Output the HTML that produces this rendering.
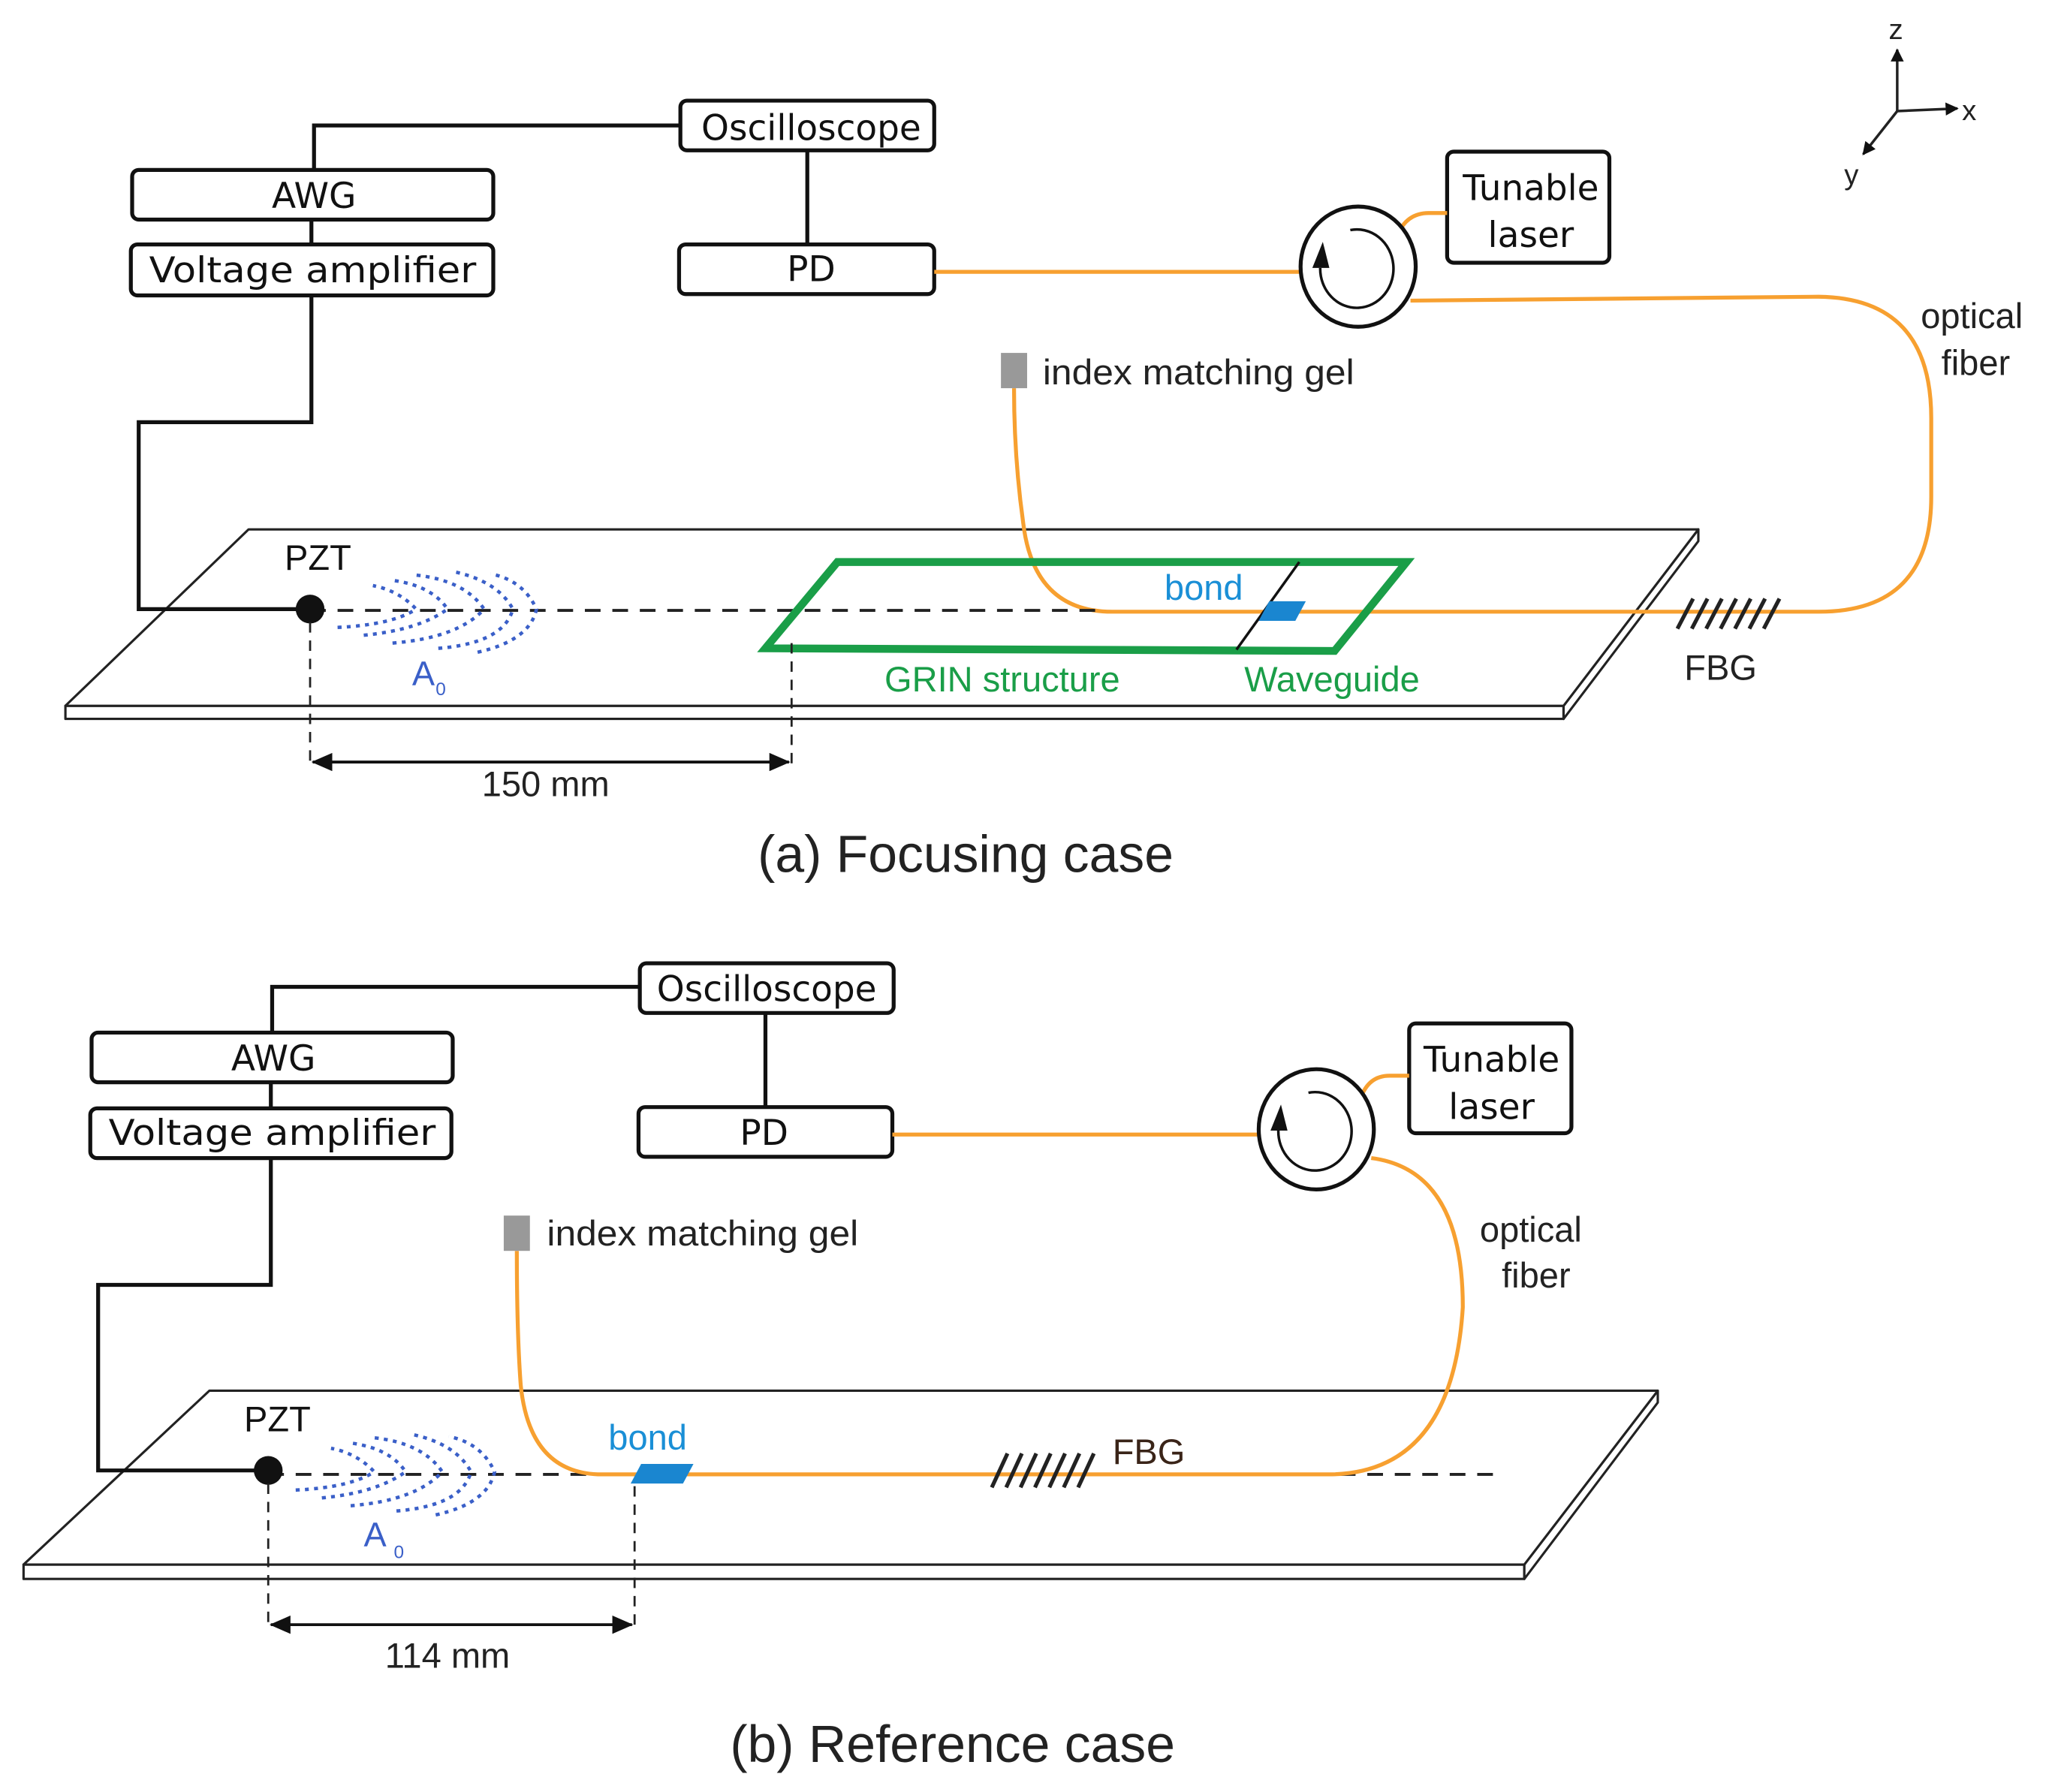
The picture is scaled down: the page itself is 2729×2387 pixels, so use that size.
<!DOCTYPE html>
<html><head><meta charset="utf-8"><style>
html,body{margin:0;padding:0;background:#fff;}
svg{display:block;}
text{font-family:"Liberation Sans",Arial,sans-serif;}
.bx{font-family:"DejaVu Sans","Liberation Sans",sans-serif;font-size:27px;fill:#111;}
</style></head><body>
<svg width="2729" height="2387" viewBox="0 0 1566 1371" preserveAspectRatio="none" xmlns="http://www.w3.org/2000/svg">
<defs>
<marker id="ah" markerWidth="10" markerHeight="10" refX="9" refY="5" orient="auto" markerUnits="userSpaceOnUse"><path d="M0,0 L10,5 L0,10 z" fill="#111"/></marker>
<marker id="ahs" markerWidth="16" markerHeight="14" refX="15" refY="7" orient="auto-start-reverse" markerUnits="userSpaceOnUse"><path d="M0,0 L16,7 L0,14 z" fill="#111"/></marker>
<g id="waves" fill="none" stroke="#3a5fc8" stroke-width="2.6" stroke-dasharray="3,4">
 <path d="M258,480 Q300,478 318,466 Q305,452 285,448"/>
 <path d="M278,486 Q320,482 342,466 Q330,448 300,444"/>
 <path d="M300,492 Q350,488 370,466 Q355,444 318,440"/>
 <path d="M335,496 Q385,492 392,466 Q380,444 345,437"/>
 <path d="M365,499 Q405,490 410,466 Q400,444 375,439"/>
</g>
</defs>
<rect width="1566" height="1371" fill="#fff"/>

<g stroke="#222" stroke-width="2" fill="none">
 <line x1="1450" y1="85" x2="1450" y2="38" marker-end="url(#ah)"/>
 <line x1="1450" y1="85" x2="1496" y2="83" marker-end="url(#ah)"/>
 <line x1="1450" y1="85" x2="1424" y2="118" marker-end="url(#ah)"/>
</g>
<text x="1449" y="30" font-size="22" text-anchor="middle" fill="#222">z</text>
<text x="1505" y="92" font-size="22" text-anchor="middle" fill="#222">x</text>
<text x="1415" y="141" font-size="22" text-anchor="middle" fill="#222">y</text>

<g stroke="#222" stroke-width="1.8" fill="#fff" stroke-linejoin="round">
 <path d="M50,540 L1195,540 L1195,550 L50,550 Z"/>
 <path d="M1195,540 L1298,405 L1298,414 L1195,550 Z"/>
 <path d="M190,405 L1298,405 L1195,540 L50,540 Z"/>
</g>

<g stroke="#111" stroke-width="3" fill="none">
 <polyline points="240,130 240,96 520,96"/>
 <line x1="617" y1="115" x2="617" y2="187"/>
 <line x1="238" y1="168" x2="238" y2="187"/>
 <polyline points="238,226 238,323 106,323 106,466 237,466"/>
</g>
<g stroke="#111" stroke-width="3" fill="#fff">
 <rect x="520" y="77" width="194" height="38" rx="5"/>
 <rect x="101" y="130" width="276" height="38" rx="5"/>
 <rect x="100" y="187" width="277" height="39" rx="5"/>
 <rect x="519" y="187" width="195" height="38" rx="5"/>
 <rect x="1106" y="116" width="124" height="85" rx="5"/>
</g>
<text class="bx" x="620" y="107" text-anchor="middle" textLength="168" lengthAdjust="spacingAndGlyphs">Oscilloscope</text>
<text class="bx" x="240" y="159" text-anchor="middle">AWG</text>
<text class="bx" x="239" y="216" text-anchor="middle" textLength="250" lengthAdjust="spacingAndGlyphs">Voltage amplifier</text>
<text class="bx" x="620" y="215" text-anchor="middle">PD</text>
<text class="bx" x="1170" y="153" text-anchor="middle" textLength="104" lengthAdjust="spacingAndGlyphs">Tunable</text>
<text class="bx" x="1170" y="189" text-anchor="middle">laser</text>

<g stroke="#f7a030" stroke-width="3" fill="none">
 <line x1="714" y1="208" x2="994" y2="208"/>
 <path d="M1068,180 Q1075,163 1092,163 L1106,163"/>
 <path d="M1078,230 L1390,227 Q1476,228 1476,320 L1476,380 Q1476,468 1390,468 L850,468 Q790,468 782,400 Q775,350 775,297"/>
</g>
<rect x="765" y="270" width="20" height="27" fill="#999"/>
<text x="797" y="294" font-size="27" fill="#222" textLength="238" lengthAdjust="spacingAndGlyphs">index matching gel</text>
<text x="1507" y="251" font-size="27" fill="#222" text-anchor="middle">optical</text>
<text x="1510" y="287" font-size="27" fill="#222" text-anchor="middle">fiber</text>

<ellipse cx="1038" cy="204" rx="44" ry="46" fill="#fff" stroke="#111" stroke-width="3"/>
<path d="M1032,176 A28,30 0 1 1 1009,205" fill="none" stroke="#111" stroke-width="2"/>
<path d="M1003,205 L1011,185 L1016,205 Z" fill="#111"/>

<line x1="237" y1="467" x2="845" y2="467" stroke="#222" stroke-width="2.2" stroke-dasharray="12,9"/>

<path d="M640,430 L1075,430 L1020,498 L585,496 Z" fill="none" stroke="#1a9e48" stroke-width="6"/>
<line x1="993" y1="430" x2="945" y2="497" stroke="#111" stroke-width="2"/>
<path d="M970,460 L998,460 L990,475 L962,475 Z" fill="#1a86d0"/>
<text x="920" y="459" font-size="27" fill="#1a8fd6" text-anchor="middle">bond</text>
<text x="766" y="529" font-size="27" fill="#1a9e48" text-anchor="middle">GRIN structure</text>
<text x="1018" y="529" font-size="27" fill="#1a9e48" text-anchor="middle">Waveguide</text>

<g stroke="#222" stroke-width="3">
 <line x1="1282" y1="481" x2="1294" y2="458"/><line x1="1293" y1="481" x2="1305" y2="458"/>
 <line x1="1304" y1="481" x2="1316" y2="458"/><line x1="1315" y1="481" x2="1327" y2="458"/>
 <line x1="1326" y1="481" x2="1338" y2="458"/><line x1="1337" y1="481" x2="1349" y2="458"/>
 <line x1="1348" y1="481" x2="1360" y2="458"/>
</g>
<text x="1315" y="520" font-size="27" fill="#222" text-anchor="middle">FBG</text>

<use href="#waves"/>
<circle cx="237" cy="466" r="11" fill="#111"/>
<text x="243" y="436" font-size="27" fill="#111" text-anchor="middle">PZT</text>
<text x="315" y="524" font-size="26" fill="#3a5fc8">A</text><text x="333" y="532" font-size="14" fill="#3a5fc8">0</text>

<g stroke="#222" stroke-width="1.6" stroke-dasharray="8,6">
 <line x1="237" y1="476" x2="237" y2="585"/><line x1="605" y1="492" x2="605" y2="585"/>
</g>
<line x1="239" y1="583" x2="603" y2="583" stroke="#111" stroke-width="2.2" marker-start="url(#ahs)" marker-end="url(#ahs)"/>
<text x="417" y="609" font-size="27" fill="#222" text-anchor="middle">150 mm</text>
<text x="738" y="667" font-size="40" fill="#222" text-anchor="middle">(a) Focusing case</text>

<g stroke="#222" stroke-width="1.8" fill="#fff" stroke-linejoin="round">
 <path d="M18,1197 L1165,1197 L1165,1208 L18,1208 Z"/>
 <path d="M1165,1197 L1267,1064 L1267,1073 L1165,1208 Z"/>
 <path d="M160,1064 L1267,1064 L1165,1197 L18,1197 Z"/>
</g>
<g stroke="#111" stroke-width="3" fill="none">
 <polyline points="208,790 208,755 489,755"/>
 <line x1="585" y1="775" x2="585" y2="847"/>
 <line x1="207" y1="828" x2="207" y2="848"/>
 <polyline points="207,886 207,983 75,983 75,1125 205,1125"/>
</g>
<g stroke="#111" stroke-width="3" fill="#fff">
 <rect x="489" y="737" width="194" height="38" rx="5"/>
 <rect x="70" y="790" width="276" height="38" rx="5"/>
 <rect x="69" y="848" width="276" height="38" rx="5"/>
 <rect x="488" y="847" width="194" height="38" rx="5"/>
 <rect x="1077" y="783" width="124" height="84" rx="5"/>
</g>
<text class="bx" x="586" y="766" text-anchor="middle" textLength="168" lengthAdjust="spacingAndGlyphs">Oscilloscope</text>
<text class="bx" x="209" y="819" text-anchor="middle">AWG</text>
<text class="bx" x="208" y="876" text-anchor="middle" textLength="250" lengthAdjust="spacingAndGlyphs">Voltage amplifier</text>
<text class="bx" x="584" y="876" text-anchor="middle">PD</text>
<text class="bx" x="1140" y="820" text-anchor="middle" textLength="104" lengthAdjust="spacingAndGlyphs">Tunable</text>
<text class="bx" x="1140" y="856" text-anchor="middle">laser</text>

<line x1="205" y1="1128" x2="1150" y2="1128" stroke="#222" stroke-width="2.2" stroke-dasharray="12,9"/>
<g stroke="#f7a030" stroke-width="3" fill="none">
 <line x1="682" y1="868" x2="962" y2="868"/>
 <path d="M1040,840 Q1046,823 1062,823 L1077,823"/>
 <path d="M1048,886 Q1118,895 1118,1000 Q1110,1128 1015,1128 L460,1128 Q405,1128 398,1060 Q395,1020 395,957"/>
</g>
<rect x="385" y="930" width="20" height="27" fill="#999"/>
<text x="418" y="953" font-size="27" fill="#222" textLength="238" lengthAdjust="spacingAndGlyphs">index matching gel</text>
<text x="1170" y="950" font-size="27" fill="#222" text-anchor="middle">optical</text>
<text x="1174" y="985" font-size="27" fill="#222" text-anchor="middle">fiber</text>

<ellipse cx="1006" cy="864" rx="44" ry="46" fill="#fff" stroke="#111" stroke-width="3"/>
<path d="M1000,836 A28,30 0 1 1 977,865" fill="none" stroke="#111" stroke-width="2"/>
<path d="M971,865 L979,845 L984,865 Z" fill="#111"/>

<path d="M490,1120 L530,1120 L522,1135 L482,1135 Z" fill="#1a86d0"/>
<text x="495" y="1109" font-size="27" fill="#1a8fd6" text-anchor="middle">bond</text>

<g stroke="#222" stroke-width="3">
 <line x1="758" y1="1138" x2="770" y2="1112"/><line x1="769" y1="1138" x2="781" y2="1112"/>
 <line x1="780" y1="1138" x2="792" y2="1112"/><line x1="791" y1="1138" x2="803" y2="1112"/>
 <line x1="802" y1="1138" x2="814" y2="1112"/><line x1="813" y1="1138" x2="825" y2="1112"/>
 <line x1="824" y1="1138" x2="836" y2="1112"/>
</g>
<text x="878" y="1120" font-size="27" fill="#3a2418" text-anchor="middle">FBG</text>

<use href="#waves" transform="translate(-32,660)"/>
<circle cx="205" cy="1125" r="11" fill="#111"/>
<text x="212" y="1095" font-size="27" fill="#111" text-anchor="middle">PZT</text>
<text x="278" y="1183" font-size="26" fill="#3a5fc8">A</text><text x="301" y="1192" font-size="14" fill="#3a5fc8">0</text>

<g stroke="#222" stroke-width="1.6" stroke-dasharray="8,6">
 <line x1="205" y1="1135" x2="205" y2="1245"/><line x1="485" y1="1137" x2="485" y2="1245"/>
</g>
<line x1="207" y1="1243" x2="483" y2="1243" stroke="#111" stroke-width="2.2" marker-start="url(#ahs)" marker-end="url(#ahs)"/>
<text x="342" y="1276" font-size="27" fill="#222" text-anchor="middle">114 mm</text>
<text x="728" y="1348" font-size="40" fill="#222" text-anchor="middle">(b) Reference case</text>
</svg>
</body></html>
